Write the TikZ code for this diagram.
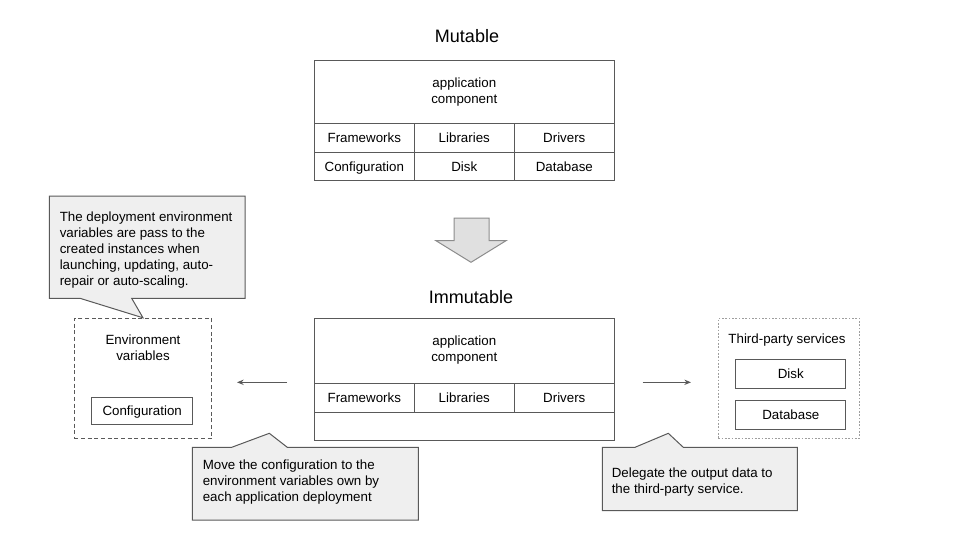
\documentclass[tikz,border=0pt]{standalone}
\usepackage{fontspec}
\setmainfont{Liberation Sans}
\usetikzlibrary{arrows.meta}
\definecolor{ln}{HTML}{595959}
\definecolor{cfill}{HTML}{EFEFEF}
\definecolor{afill}{HTML}{E0E0E0}
\definecolor{aline}{HTML}{8C8C8C}
\definecolor{dotc}{HTML}{9E9E9E}
\begin{document}
\begin{tikzpicture}[x=0.75pt,y=-0.75pt,
  every node/.style={font=\fontsize{10}{12}\selectfont, text=black},
  cell/.style={draw=ln, line width=0.75pt, minimum width=75pt, inner sep=0pt, align=center, text height=9.5pt, text depth=2.1pt},
  titletxt/.style={font=\fontsize{13.5}{16}\selectfont},
  callout/.style={draw=ln, fill=cfill, line width=0.75pt, line join=miter},
  ctext/.style={align=left, anchor=north west, inner sep=0pt},
  conn/.style={draw=ln, line width=0.75pt, -{Stealth[length=5pt,width=4pt]}},
  plainbox/.style={draw=ln, line width=0.75pt, inner sep=0pt, align=center, text height=9.5pt, text depth=2.1pt}]
\useasboundingbox (0,0) rectangle (960,540);

% titles
\node[titletxt] (mut) at (467,36) {Mutable};
\node[titletxt] (imm) at (471,297) {Immutable};

% mutable table
\node[cell, minimum width=225pt, minimum height=47.5pt] (mhead) at (464.3,91.7) {};
\node (mheadt) at (464.3,92) [align=center, inner sep=0pt] {application\\component};
\node[cell, minimum height=21.75pt] (mfw) at (364.3,137.8) {Frameworks};
\node[cell, minimum height=21.75pt] (mlib) at (464.3,137.8) {Libraries};
\node[cell, minimum height=21.75pt] (mdrv) at (564.3,137.8) {Drivers};
\node[cell, minimum height=21.3pt] (mcfg) at (364.3,166.5) {Configuration};
\node[cell, minimum height=21.3pt] (mdisk) at (464.3,166.5) {Disk};
\node[cell, minimum height=21.3pt] (mdb) at (564.3,166.5) {Database};

% block arrow
\draw[fill=afill, draw=aline, line width=0.75pt, line join=miter]
  (454,218) -- (489,218) -- (489,240.7) -- (506,240.7) -- (471,262.3)
  -- (436,240.7) -- (454,240.7) -- cycle;

% immutable table
\node[cell, minimum width=225pt, minimum height=48.75pt] (ihead) at (464.3,350.8) {};
\node (iheadt) at (464.3,350) [align=center, inner sep=0pt] {application\\component};
\node[cell, minimum height=21.75pt] (ifw) at (364.3,397.8) {Frameworks};
\node[cell, minimum height=21.75pt] (ilib) at (464.3,397.8) {Libraries};
\node[cell, minimum height=21.75pt] (idrv) at (564.3,397.8) {Drivers};
\node[cell, minimum width=225pt, minimum height=20.8pt] (iempty) at (464.3,426.2) {};

% environment variables box
\node[draw=ln, line width=0.75pt, dash pattern=on 3pt off 2pt, minimum width=103pt, minimum height=90pt, inner sep=0pt] (env) at (143,378.3) {};
\node[align=center, inner sep=0pt] (envt) at (143,348) {Environment\\variables};
\node[plainbox, minimum width=75.75pt, minimum height=20.25pt] (cfg) at (142.2,410.8) {Configuration};

% third-party services box
\node[draw=dotc, line width=0.75pt, dash pattern=on 1.2pt off 1.3pt, minimum width=105.75pt, minimum height=90pt, inner sep=0pt] (tps) at (788.8,378.3) {};
\node[inner sep=0pt] (tpst) at (787,340.5) {Third-party services};
\node[plainbox, minimum width=82.3pt, minimum height=21.75pt] (tdisk) at (790.8,373.8) {Disk};
\node[plainbox, minimum width=82.3pt, minimum height=21.5pt] (tdb) at (790.8,415) {Database};

% connectors
\coordinate (la) at (287,382.3);
\coordinate (lb) at (237,382.3);
\coordinate (ra) at (642.7,382.3);
\coordinate (rb) at (691,382.3);
\draw[conn] (la) -- (lb);
\draw[conn] (ra) -- (rb);

% callout 1
\draw[callout] (49.3,196) -- (245,196) -- (245,298.3) -- (131.7,298.3) -- (env.north)
  -- (80,298.3) -- (49.3,298.3) -- cycle;
\node[ctext] (c1) at (59.5,211.5) {The deployment environment\\variables are pass to the\\created instances when\\launching, updating, auto-\\repair or auto-scaling.};

% callout 2
\coordinate (tip2) at (269.3,433.3);
\draw[callout] (192.3,447.3) -- (231.7,447.3) -- (tip2) -- (287.3,447.3) -- (418.3,447.3)
  -- (418.3,520) -- (192.3,520) -- cycle;
\node[ctext] (c2) at (202.5,460) {Move the configuration to the\\environment variables own by\\each application deployment};

% callout 3
\coordinate (tip3) at (668.3,433.3);
\draw[callout] (602.3,447.3) -- (635,447.3) -- (tip3) -- (683.3,447.3) -- (797.3,447.3)
  -- (797.3,510.7) -- (602.3,510.7) -- cycle;
\node[ctext] (c3) at (611.5,467.2) {Delegate the output data to\\the third-party service.};
\end{tikzpicture}
\end{document}
